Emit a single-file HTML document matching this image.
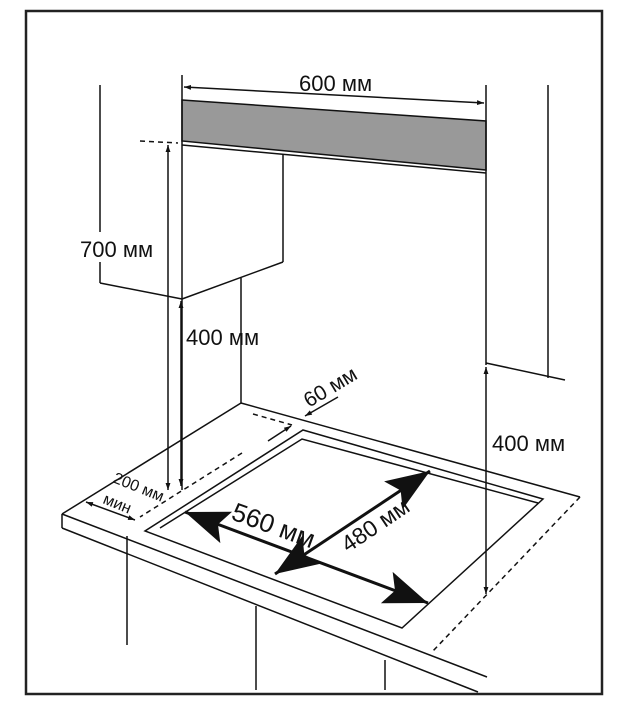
<!DOCTYPE html>
<html><head><meta charset="utf-8"><style>
html,body{margin:0;padding:0;background:#fff;}
svg{display:block;}
text{font-family:"Liberation Sans",sans-serif;fill:#111;}
</style></head><body>
<svg width="623" height="719" viewBox="0 0 623 719" xmlns="http://www.w3.org/2000/svg">
<defs>
<marker id="a" viewBox="0 0 10 10" refX="10" refY="5" markerWidth="7" markerHeight="7" orient="auto-start-reverse" markerUnits="userSpaceOnUse"><path d="M0,1.5 L10,5 L0,8.5 z" fill="#111"/></marker>
<marker id="b" viewBox="0 0 10 10" refX="10" refY="5" markerWidth="44" markerHeight="44" orient="auto-start-reverse" markerUnits="userSpaceOnUse"><path d="M0,1.2 L10,5 L0,8.8 L2,5 z" fill="#111"/></marker>
</defs>
<rect x="26" y="11" width="576" height="683" fill="none" stroke="#222" stroke-width="2.5"/>
<g stroke="#111" stroke-width="1.5" fill="none">
<polygon points="182,100 486,121 486,170 182,141" fill="#999"/>
<line x1="182" y1="145" x2="486" y2="173"/>
<line x1="182" y1="75" x2="182" y2="490"/>
<line x1="486" y1="85" x2="486" y2="365"/>
<line x1="184" y1="87" x2="484" y2="103" marker-start="url(#a)" marker-end="url(#a)"/>
<line x1="100" y1="85" x2="100" y2="232"/>
<line x1="100" y1="262" x2="100" y2="283"/>
<line x1="100" y1="283" x2="182" y2="299"/>
<line x1="283" y1="154" x2="283" y2="262"/>
<line x1="283" y1="262" x2="182" y2="299"/>
<line x1="241" y1="278" x2="241" y2="403"/>
<line x1="140" y1="141" x2="178" y2="143" stroke-dasharray="5,4"/>
<line x1="168" y1="145" x2="168" y2="490" marker-start="url(#a)" marker-end="url(#a)"/>
<line x1="181" y1="301" x2="181" y2="486" marker-start="url(#a)" marker-end="url(#a)"/>
<line x1="548" y1="85" x2="548" y2="378"/>
<line x1="486" y1="363" x2="565" y2="380"/>
<line x1="486" y1="367" x2="486" y2="594" marker-start="url(#a)" marker-end="url(#a)"/>
<line x1="241" y1="403" x2="580" y2="497"/>
<line x1="241" y1="403" x2="62" y2="514"/>
<line x1="62" y1="514" x2="487" y2="677"/>
<line x1="62" y1="514" x2="62" y2="528"/>
<line x1="62" y1="528" x2="478" y2="692"/>
<line x1="580" y1="497" x2="432" y2="652" stroke-dasharray="5,4"/>
<line x1="127" y1="536" x2="127" y2="645"/>
<line x1="256" y1="606" x2="256" y2="690"/>
<line x1="385" y1="660" x2="385" y2="690"/>
<polygon points="303,430 543,499 402,628 145,531"/>
<polyline points="160,528 302,439 538,503"/>
<line x1="242" y1="453" x2="140" y2="517" stroke-dasharray="5,4"/>
<line x1="253" y1="414" x2="292" y2="425" stroke-dasharray="5,4"/>
<line x1="268" y1="441" x2="291" y2="426" marker-end="url(#a)"/>
<line x1="338" y1="397" x2="305" y2="416" marker-end="url(#a)"/>
<line x1="86" y1="502" x2="135" y2="520" marker-start="url(#a)" marker-end="url(#a)"/>
<line x1="185" y1="512" x2="428" y2="603" stroke-width="3" marker-start="url(#b)" marker-end="url(#b)"/>
<line x1="275" y1="574" x2="430" y2="471" stroke-width="3" marker-start="url(#b)" marker-end="url(#b)"/>
</g>
<text x="299" y="91" font-size="22">600 мм</text>
<text x="80" y="257" font-size="22">700 мм</text>
<text x="186" y="345" font-size="22">400 мм</text>
<text x="492" y="451" font-size="22">400 мм</text>
<text transform="translate(309,408) rotate(-31)" font-size="21">60 мм</text>
<text transform="translate(112,482) rotate(22)" font-size="16">200 мм</text>
<text transform="translate(102,503) rotate(22)" font-size="16">мин</text>
<text transform="translate(230,519) rotate(20)" font-size="26">560 мм</text>
<text transform="translate(348,553) rotate(-34)" font-size="23">480 мм</text>
</svg>
</body></html>
